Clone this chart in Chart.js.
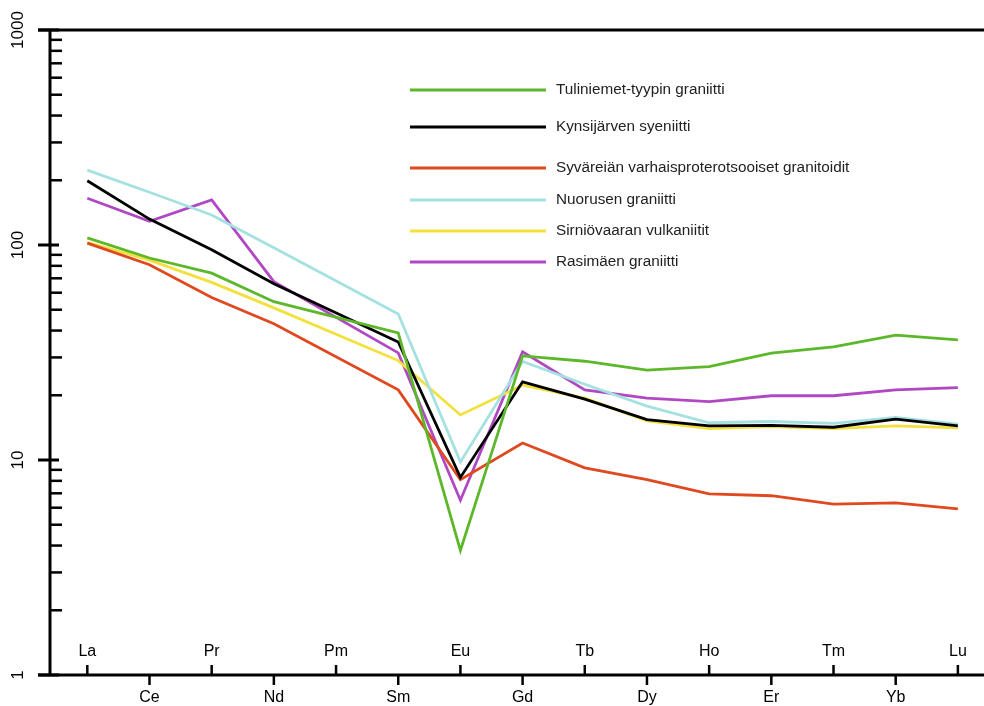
<!DOCTYPE html>
<html>
<head>
<meta charset="utf-8">
<script src="https://cdn.jsdelivr.net/npm/chart.js@4.4.1/dist/chart.umd.min.js"></script>
<style>
  html, body { margin: 0; padding: 0; background: #fff; }
  #wrap { width: 984px; height: 706px; position: relative; }
</style>
</head>
<body>
<div id="wrap"><canvas id="reeChart"></canvas></div>
<script>
// alkuaineet (Pm puuttuu datasta)
const elements = ['La', 'Ce', 'Pr', 'Nd', 'Pm', 'Sm', 'Eu', 'Gd', 'Tb', 'Dy', 'Ho', 'Er', 'Tm', 'Yb', 'Lu'];
const yTicks = [1, 10, 100, 1000];

const tuliniemet  = [108, 87, 74, 54.5, null, 39, 3.8, 30.5, 28.8, 26.2, 27.2, 31.4, 33.6, 38.1, 36.2];
const kynsijarvi  = [199, 132, 95, 66, null, 35.4, 8.3, 23.1, 19.2, 15.4, 14.4, 14.5, 14.2, 15.5, 14.4];
const syvareia    = [102, 81, 57, 43, null, 21.2, 8.1, 12.0, 9.2, 8.1, 6.95, 6.82, 6.24, 6.32, 5.92];
const nuorunen    = [223, 176, 138, 97, null, 47.8, 9.8, 28.7, 22.5, 17.8, 14.9, 15.1, 14.8, 15.8, 14.7];
const sirniovaara = [103, 85, 67, 51, null, 29, 16.2, 22.3, 19.4, 15.2, 14.0, 14.3, 14.0, 14.4, 14.1];
const rasimaki    = [165, 129, 162, 67.5, null, 31.5, 6.5, 31.9, 21.2, 19.4, 18.7, 19.9, 19.9, 21.2, 21.7];

const FONT = 'Arial, "Liberation Sans", sans-serif';

function toPoints(vals) {
    return vals.map((v, i) => ({ x: i, y: v }));
}

function series(label, vals, color) {
    return {
        label: label,
        data: toPoints(vals),
        borderColor: color,
        backgroundColor: color,
        borderWidth: 2.8,
        pointRadius: 0,
        tension: 0,
        spanGaps: true,
        fill: false
    };
}

// akselit, jaotukset ja selite piirretään itse
const axesPlugin = {
    id: 'reeAxes',
    afterDraw(chart) {
        const { ctx, chartArea: a, scales: { x, y } } = chart;
        ctx.save();
        ctx.strokeStyle = '#000';
        ctx.fillStyle = '#000';
        ctx.lineCap = 'butt';

        // kehys
        ctx.lineWidth = 3;
        ctx.beginPath();
        ctx.moveTo(38, a.top); ctx.lineTo(a.right, a.top);
        ctx.moveTo(a.left, a.top); ctx.lineTo(a.left, a.bottom);
        ctx.moveTo(38, a.bottom); ctx.lineTo(a.right, a.bottom);
        ctx.stroke();

        // y-akselin pääjaotukset ja tekstit
        ctx.font = '17px ' + FONT;
        ctx.textAlign = 'center';
        ctx.textBaseline = 'middle';
        yTicks.forEach(v => {
            const py = y.getPixelForValue(v);
            ctx.beginPath();
            ctx.moveTo(38, py); ctx.lineTo(a.left + 9, py);
            ctx.stroke();
            ctx.save();
            ctx.translate(18, py);
            ctx.rotate(-Math.PI / 2);
            ctx.fillText(String(v), 0, 0);
            ctx.restore();
        });
        // apujaotukset
        ctx.lineWidth = 2.5;
        for (let k = 0; k < yTicks.length - 1; k++) {
            for (let m = 2; m <= 9; m++) {
                const py = y.getPixelForValue(m * yTicks[k]);
                ctx.beginPath();
                ctx.moveTo(a.left, py); ctx.lineTo(a.left + 12, py);
                ctx.stroke();
            }
        }

        // x-akseli: vuorotellen ylös ja alas
        ctx.lineWidth = 2.5;
        ctx.font = '16px ' + FONT;
        elements.forEach((el, i) => {
            const px = x.getPixelForValue(i);
            const up = i % 2 === 0;
            ctx.beginPath();
            ctx.moveTo(px, a.bottom);
            ctx.lineTo(px, up ? a.bottom - 10 : a.bottom + 10);
            ctx.stroke();
            ctx.fillText(el, px, up ? a.bottom - 23 : a.bottom + 23);
        });

        // selite
        const rows = [90, 127, 168, 200, 231, 262];
        ctx.font = '15.3px ' + FONT;
        ctx.textAlign = 'left';
        ctx.fillStyle = '#222';
        chart.data.datasets.forEach((ds, i) => {
            ctx.strokeStyle = ds.borderColor;
            ctx.lineWidth = 3;
            ctx.beginPath();
            ctx.moveTo(410, rows[i]); ctx.lineTo(546, rows[i]);
            ctx.stroke();
            ctx.fillText(ds.label, 556, rows[i]);
        });
        ctx.restore();
    }
};

document.addEventListener('DOMContentLoaded', function() {
    const ctx = document.getElementById('reeChart');
    new Chart(ctx, {
        type: 'line',
        data: {
            datasets: [
                series('Tuliniemet-tyypin graniitti', tuliniemet, '#5cb82a'),
                series('Kynsijärven syeniitti', kynsijarvi, '#000000'),
                series('Syväreiän varhaisproterotsooiset granitoidit', syvareia, '#e0491f'),
                series('Nuorusen graniitti', nuorunen, '#a6e1e1'),
                series('Sirniövaaran vulkaniitit', sirniovaara, '#f2e13c'),
                series('Rasimäen graniitti', rasimaki, '#b148c3')
            ]
        },
        options: {
            responsive: true,
            maintainAspectRatio: false,
            animation: false,
            layout: {
                padding: { left: 50, top: 30, right: 0, bottom: 31 }
            },
            plugins: {
                legend: { display: false },
                tooltip: { enabled: false }
            },
            scales: {
                x: {
                    type: 'linear',
                    min: -0.6,
                    max: 14.42,
                    display: false
                },
                y: {
                    type: 'logarithmic',
                    min: 1,
                    max: 1000,
                    display: false
                }
            }
        },
        plugins: [axesPlugin]
    });
});
</script>
</body>
</html>
